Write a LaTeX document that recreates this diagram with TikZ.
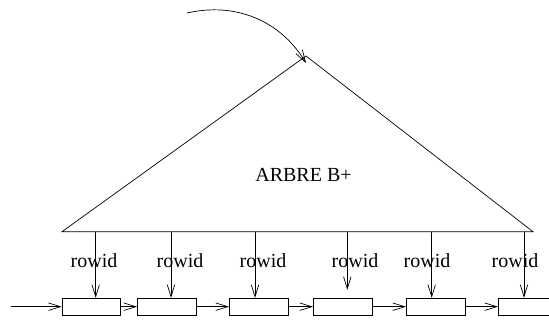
\documentclass[tikz,border=0pt]{standalone}
\usepackage{fontspec}
\setmainfont{Liberation Serif}
\usetikzlibrary{arrows.meta,positioning}
\tikzset{
  leaf/.style={draw,minimum width=59pt,minimum height=17pt,inner sep=0pt},
  lbl/.style={font=\fontsize{20}{24}\selectfont,inner sep=0pt},
  arr/.style={-{Straight Barb[length=12pt,width=7.5pt]},line width=0.7pt}
}
\begin{document}
\begin{tikzpicture}[x=1pt,y=-1pt,line width=0.7pt]
  \useasboundingbox[fill=white] (0,0) rectangle (549,320);
  % arbre
  \coordinate (top) at (306,56);
  \coordinate (bl) at (62,231.7);
  \coordinate (br) at (533,231.7);
  \draw (bl) -- (top) -- (br) -- cycle;
  \node[lbl] (arbre) at (303.5,174.5) {ARBRE B+};
  \coordinate (entree) at (187,13);
  \draw[arr] (entree) .. controls (235,2) and (280,20) .. ([yshift=-7pt]top);
  % feuilles
  \node[leaf,minimum width=58.7pt] (r1) at (91.35,306.7) {};
  \node[leaf,minimum width=58.7pt] (r2) at (166.65,306.7) {};
  \node[leaf] (r3) at (258.8,306.7) {};
  \node[leaf] (r4) at (342.8,306.7) {};
  \node[leaf,minimum width=58.7pt] (r5) at (435.65,306.7) {};
  \node[leaf] (r6) at (527.8,306.7) {};
  \coordinate (debut) at (11,306.7);
  \draw[arr] (debut) -- (r1);
  \draw[arr] (r1) -- (r2);
  \draw[arr] (r2) -- (r3);
  \draw[arr] (r3) -- (r4);
  \draw[arr] (r4) -- (r5);
  \draw[arr] (r5) -- (r6);
  % rowid
  \foreach \i/\x/\lx in {1/95.7/94,2/171/180,3/255/263,4/347.3/355,5/431.7/427,6/524/515}{
    \coordinate (b\i) at (\x,231.7);
    \node[lbl] (rid\i) at (\lx,261) {rowid};
  }
  \draw[arr] (b1) -- (b1 |- r1.north);
  \draw[arr] (b2) -- (b2 |- r2.north);
  \draw[arr] (b3) -- (b3 |- r3.north);
  \draw[arr] (b4) -- ([yshift=8pt]b4 |- r4.north);
  \draw[arr] (b5) -- (b5 |- r5.north);
  \draw[arr] (b6) -- (b6 |- r6.north);
\end{tikzpicture}
\end{document}
